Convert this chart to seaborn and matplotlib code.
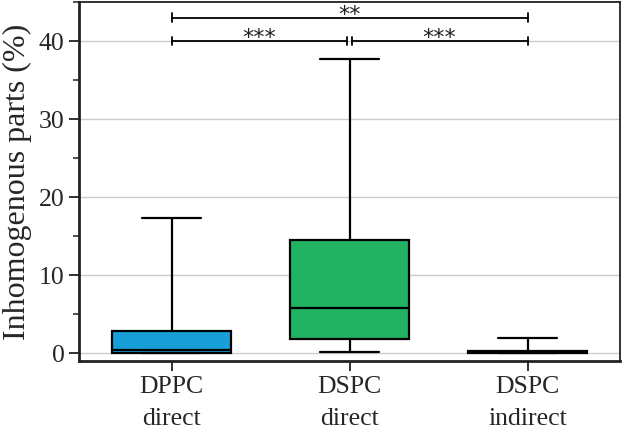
import numpy as np
import pandas as pd
import matplotlib.pyplot as plt
import seaborn as sns
from matplotlib.ticker import MultipleLocator

# five-number summaries: min, Q1, median, Q3, max
CATEGORIES = ["DPPC\ndirect", "DSPC\ndirect", "DSPC\nindirect"]
DPPC_DIRECT   = [0.0, 0.05, 0.35, 2.8, 17.3]
DSPC_DIRECT   = [0.1, 1.8, 5.8, 14.5, 37.7]
DSPC_INDIRECT = [0.0, 0.05, 0.15, 0.3, 1.9]
COLORS = ["#199fd7", "#21b262", "#555555"]

# significance brackets: (from, to, height, label)
SIG_PAIRS = [(0, 1, 40, "***"), (1, 2, 40, "***"), (0, 2, 43, "**")]

sns.set_theme(style="white")
plt.rcParams["font.family"] = ["Liberation Serif", "DejaVu Serif"]

df = pd.DataFrame({
    "group": np.repeat(CATEGORIES, 5),
    "value": DPPC_DIRECT + DSPC_DIRECT + DSPC_INDIRECT,
})

fig, ax = plt.subplots(figsize=(6.27, 4.36), dpi=100)
sns.boxplot(data=df, x="group", y="value", hue="group", palette=COLORS,
            saturation=1, whis=(0, 100), width=0.67, linecolor="black",
            linewidth=1.6, legend=False, ax=ax, zorder=3)

# significance bars
gap = 0.012
for a, b, h, lab in SIG_PAIRS:
    x0 = a + (gap if a == 1 else 0)
    x1 = b - (gap if b == 1 else 0)
    ax.plot([x0, x1], [h, h], color="black", lw=1.3, zorder=4)
    for xe in (x0, x1):
        ax.plot([xe, xe], [h - 0.55, h + 0.55], color="black", lw=1.3, zorder=4)
    ax.text((x0 + x1) / 2, h - 0.4, lab, ha="center", va="baseline",
            fontsize=16, family="DejaVu Sans", color="#222222")

ax.set_ylim(-1, 45)
ax.set_xlim(-0.52, 2.52)
ax.yaxis.set_major_locator(MultipleLocator(10))
ax.yaxis.set_minor_locator(MultipleLocator(5))
ax.yaxis.grid(True, which="major", color="#cccccc", lw=1)
ax.set_axisbelow(True)
ax.tick_params(axis="both", which="major", direction="out", length=7, width=1.3,
               labelsize=18.5, bottom=True, left=True, color="#222222")
ax.tick_params(axis="y", which="minor", direction="out", length=4, width=1.1,
               left=True, color="#222222")
plt.setp(ax.get_xticklabels(), linespacing=1.6)
for s in ax.spines.values():
    s.set_color("#222222")
    s.set_linewidth(1.3)
ax.spines["left"].set_linewidth(2)
ax.spines["bottom"].set_linewidth(2)
ax.set_xlabel("")
ax.set_ylabel("Inhomogenous parts (%)", fontsize=23, labelpad=5)

fig.subplots_adjust(left=0.126, right=0.989, top=0.995, bottom=0.172)
fig.savefig("out.png", dpi=100)
